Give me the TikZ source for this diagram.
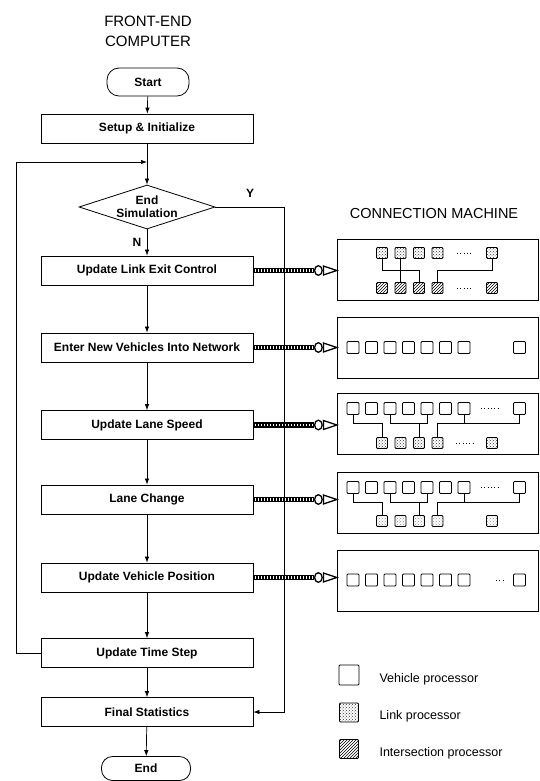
\documentclass[tikz,border=0pt]{standalone}
\usepackage{fontspec}
\setmainfont{Liberation Sans}
\usetikzlibrary{shapes.geometric,arrows.meta,patterns,calc}
\begin{document}
\begin{tikzpicture}[x=1pt,y=-1pt,
  boxfont/.style={font=\fontsize{12}{14}\selectfont\bfseries},
  proc/.style={draw, line width=0.8pt, minimum width=212pt, minimum height=29pt, inner sep=0pt, boxfont},
  termbox/.style={draw, line width=0.8pt, rounded corners=12pt, minimum height=28pt, inner sep=0pt, boxfont},
  flow/.style={line width=0.7pt, -{Latex[length=6pt,width=4.5pt]}},
  cmbox/.style={draw, line width=0.9pt, minimum width=201pt, minimum height=61pt, inner sep=0pt},
  vproc/.style={draw, line width=0.9pt, minimum size=12pt, inner sep=0pt, rounded corners=1pt},
  lproc/.style={vproc, minimum size=11pt, pattern=crosshatch dots, pattern color=black!80},
  lprocl/.style={vproc, minimum size=11pt, pattern=crosshatch dots, pattern color=black!45},
  iproc/.style={vproc, minimum size=11pt, pattern=north east lines},
  wire/.style={line width=0.7pt},
  dotsline/.style={line width=0.9pt, dash pattern=on 0.9pt off 2.4pt},
  bus/.pic={
    \fill (0,-2.6) rectangle (61,2.6);
    \foreach \i in {0,...,19} \fill[white] (1.2+3*\i,-1.3) rectangle (2.8+3*\i,1.3);
    \draw[line width=1.3pt, fill=white] (65,0) ellipse [x radius=3.8pt, y radius=4.8pt];
    \draw[line width=1.3pt, fill=white, line join=miter] (70,-4.5) -- (83.5,0) -- (70,4.5) -- cycle;
  },
]
\fill[white] (0,0) rectangle (540,781);

% titles
\node[font=\fontsize{15}{20}\selectfont, align=center] (fe) at (148,31) {FRONT-END\\COMPUTER};
\node[font=\fontsize{14.5}{16}\selectfont] (cmt) at (434,214) {CONNECTION MACHINE};

% flowchart
\node[termbox, minimum width=82pt] (start) at (148,82) {Start};
\node[proc] (setup) at (147,128.5) {Setup \& Initialize};
\node[draw, diamond, aspect=3.1, inner sep=0pt, line width=0.8pt, minimum width=136pt, minimum height=44pt, align=center, boxfont] (endsim) at (147,207) {End\\[-1pt]Simulation};
\node[proc] (ulec) at (147,270.5) {Update Link Exit Control};
\node[proc] (env) at (147,347.5) {Enter New Vehicles Into Network};
\node[proc] (uls) at (147,425) {Update Lane Speed};
\node[proc] (lc) at (147,499.5) {Lane Change};
\node[proc] (uvp) at (147,577.5) {Update Vehicle Position};
\node[proc] (uts) at (147,653) {Update Time Step};
\node[proc] (fs) at (147,712) {Final Statistics};
\node[termbox, minimum width=89pt, minimum height=24pt, rounded corners=11pt] (end) at (146,768.5) {End};

\node[boxfont] (ylab) at (250,193) {Y};
\node[boxfont] (nlab) at (137,242) {N};

\coordinate (lp2) at (16,162);
\coordinate (lpj) at (147,162);
\coordinate (yc) at (284,207);

\draw[flow] (start) -- (setup);
\draw[flow] (setup) -- (endsim);
\draw[flow] (endsim) -- (ulec);
\draw[flow] (ulec) -- (env);
\draw[flow] (env) -- (uls);
\draw[flow] (uls) -- (lc);
\draw[flow] (lc) -- (uvp);
\draw[flow] (uvp) -- (uts);
\draw[flow] (uts) -- (fs);
\draw[flow] (fs) -- (end);
\draw[flow] (uts.west) -| (lp2) -- (lpj);

% connection machine boxes
\node[cmbox] (cm1) at (437.5,270) {};
\node[cmbox] (cm2) at (437.5,347.5) {};
\node[cmbox] (cm3) at (437.5,424) {};
\node[cmbox] (cm4) at (437.5,503) {};
\node[cmbox] (cm5) at (437.5,580.5) {};

% buses
\pic at (ulec.east) {bus};
\pic at (env.east) {bus};
\pic at (uls.east) {bus};
\pic at (lc.east) {bus};
\pic at (uvp.east) {bus};

\draw[flow] (endsim.east) -- (yc) |- (fs.east);

% box 1
\foreach \x [count=\i] in {382,400.5,419,437.5,492} {
  \node[lproc] (a\i) at (\x,253) {};
  \node[iproc] (b\i) at (\x,288) {};
}
\coordinate (h1) at (0,270);
\draw[wire] (a1.south) -- (a1.south |- h1) -| (b3.north);
\draw[wire] (a2.south) -- (b2.north);
\draw[wire] (a5.south) -- (a5.south |- h1) -| (b4.north);
\draw[dotsline] (457,253) -- (471,253);
\draw[dotsline] (457,288) -- (473,288);

% box 2
\foreach \x [count=\i] in {353,371.5,390,408.5,427,445.5,464,519.5}
  \node[vproc] (c\i) at (\x,347.5) {};

% box 3
\foreach \x [count=\i] in {353,371.5,390,408.5,427,445.5,464,519.5}
  \node[vproc] (d\i) at (\x,408.5) {};
\foreach \x [count=\i] in {382,400.5,419,437.5,492}
  \node[lproc] (e\i) at (\x,443) {};
\coordinate (h3) at (0,423);
\draw[wire] (d1.south) -- (d1.south |- h3) -| (e1.north);
\draw[wire] (d3.south) -- (d3.south |- h3) -- (d5.south |- h3) -- (d5.south);
\draw[wire] (e3.north) -- (e3.north |- h3);
\draw[wire] (d8.south) -- (d8.south |- h3) -- (e4.north |- h3) -- (e4.north);
\draw[wire] (d7.south) -- (d7.south |- h3);
\draw[dotsline] (481,408.5) -- (499,408.5);
\draw[dotsline] (456,443) -- (473,443);

% box 4
\foreach \x [count=\i] in {353,371.5,390,408.5,427,445.5,464,519.5}
  \node[vproc] (f\i) at (\x,487.5) {};
\foreach \x [count=\i] in {382,400.5,419,437.5,492}
  \node[lprocl] (g\i) at (\x,521) {};
\coordinate (h4) at (0,502.5);
\draw[wire] (f1.south) -- (f1.south |- h4) -| (g1.north);
\draw[wire] (f3.south) -- (f3.south |- h4) -- (f5.south |- h4) -- (f5.south);
\draw[wire] (g3.north) -- (g3.north |- h4);
\draw[wire] (f8.south) -- (f8.south |- h4) -- (g4.north |- h4) -- (g4.north);
\draw[wire] (f7.south) -- (f7.south |- h4);
\draw[dotsline] (481,487.5) -- (499,487.5);

% box 5
\foreach \x [count=\i] in {353,371.5,390,408.5,427,445.5,464,519.5}
  \node[vproc] (k\i) at (\x,580) {};
\draw[dotsline] (496,580) -- (503,580);

% legend
\node[vproc, minimum size=20pt] (lv) at (349,675) {};
\node[lproc, minimum size=19pt] (ll) at (349,712.5) {};
\node[iproc, minimum size=19pt] (li) at (349,749) {};
\node[anchor=west, font=\fontsize{12.5}{14}\selectfont] (lvt) at (376,679) {Vehicle processor};
\node[anchor=west, font=\fontsize{12.5}{14}\selectfont] (llt) at (376,716) {Link processor};
\node[anchor=west, font=\fontsize{12.5}{14}\selectfont] (lit) at (376,753) {Intersection processor};
\end{tikzpicture}
\end{document}
